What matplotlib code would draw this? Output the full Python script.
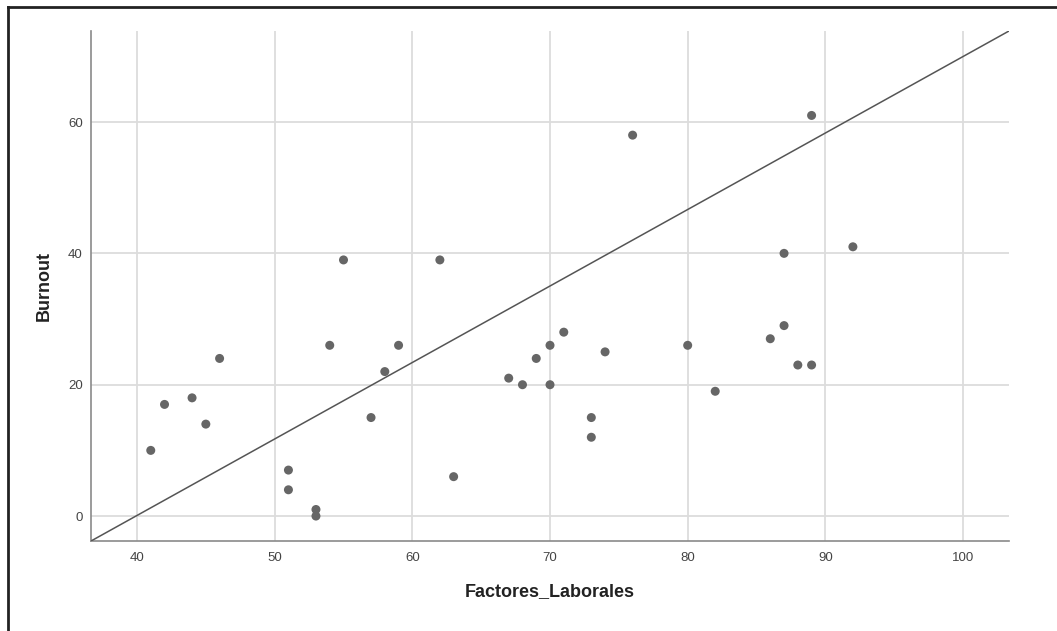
import matplotlib.pyplot as plt
from matplotlib.lines import Line2D

plt.rcParams['font.family'] = ['Liberation Sans', 'DejaVu Sans']

# data
factores = [41, 42, 44, 45, 46, 51, 51, 53, 53, 54, 55, 57, 58, 59, 62, 63,
            67, 68, 69, 70, 70, 71, 73, 73, 74, 76, 80, 82, 86, 87, 87, 88,
            89, 89, 92]
burnout = [10, 17, 18, 14, 24, 7, 4, 1, 0, 26, 39, 15, 22, 26, 39, 6,
           21, 20, 24, 26, 20, 28, 15, 12, 25, 58, 26, 19, 27, 40, 29, 23,
           23, 61, 41]

# reference line (corner to corner of the plot area)
line_x = [36.66, 103.34]
line_y = [-3.8, 73.86]

x_ticks = [40, 50, 60, 70, 80, 90, 100]
y_ticks = [0, 20, 40, 60]

fig = plt.figure(figsize=(10.57, 6.31), dpi=100)
ax = fig.add_axes([0.0861, 0.1426, 0.8685, 0.8083])

ax.scatter(factores, burnout, s=42, color='#666666', edgecolors='none', zorder=3)
ax.plot(line_x, line_y, color='#555555', lw=1.1, zorder=4)

ax.set_xlim(line_x)
ax.set_ylim(line_y)
ax.set_xticks(x_ticks)
ax.set_yticks(y_ticks)
ax.grid(True, color='#dcdcdc', lw=1.3, zorder=0)
ax.set_axisbelow(True)

for s in ['top', 'right']:
    ax.spines[s].set_visible(False)
for s in ['left', 'bottom']:
    ax.spines[s].set_color('#8a8a8a')
    ax.spines[s].set_linewidth(1.2)

ax.tick_params(length=0, labelsize=9.5, labelcolor='#444444')
ax.tick_params(axis='x', pad=8)
ax.tick_params(axis='y', pad=6)

ax.set_xlabel('Factores_Laborales', fontsize=13, fontweight='bold', color='#222222')
ax.set_ylabel('Burnout', fontsize=13, fontweight='bold', color='#222222')
ax.xaxis.set_label_coords(0.5, -0.082)
ax.yaxis.set_label_coords(-0.042, 0.5)

# outer frame, only top and left visible in the reference
fig.add_artist(Line2D([8 / 1057, 8 / 1057], [0, 1 - 7 / 631], transform=fig.transFigure,
                      color='#222222', lw=2))
fig.add_artist(Line2D([8 / 1057, 1], [1 - 7 / 631, 1 - 7 / 631], transform=fig.transFigure,
                      color='#222222', lw=2))

plt.savefig('out.png', dpi=100)
plt.close()
